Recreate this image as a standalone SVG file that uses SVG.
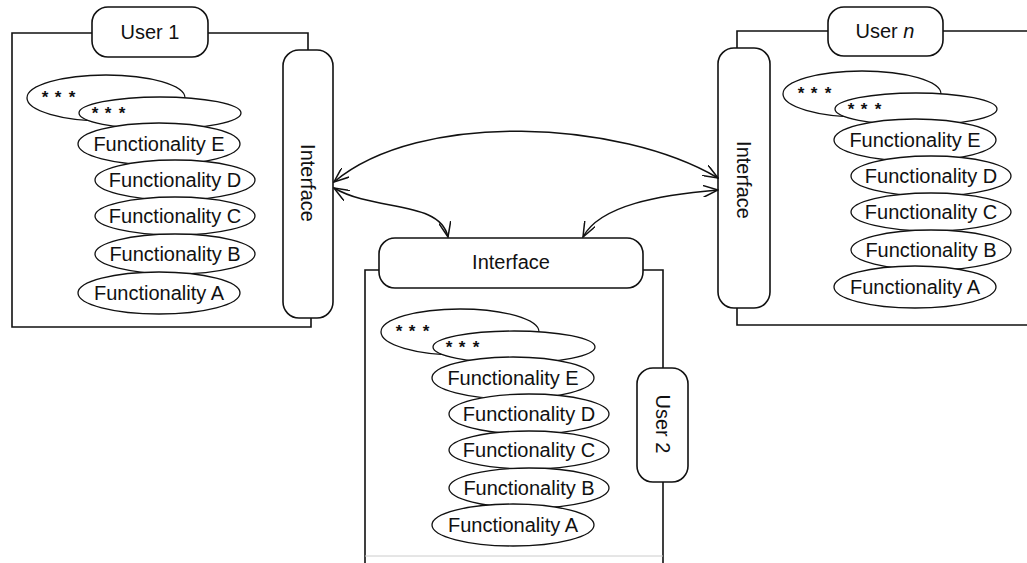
<svg xmlns="http://www.w3.org/2000/svg" width="1027" height="563" viewBox="0 0 1027 563">
  <style>
    .frame { fill: none; stroke: #111; stroke-width: 1.6; }
    .box { fill: #fff; stroke: #111; stroke-width: 1.6; }
    .fn { fill: #fff; stroke: #111; stroke-width: 1.3; }
    .lbl { font-family: "Liberation Sans", Arial, sans-serif; font-size: 20px; fill: #111; }
    .mid { text-anchor: middle; }
    .star { font-family: "Liberation Sans", Arial, sans-serif; font-size: 17px; font-weight: bold; fill: #111; text-anchor: middle; }
    .link { fill: none; stroke: #111; stroke-width: 1.5; marker-start: url(#arr); marker-end: url(#arr); }
  </style>
  <defs>
    <marker id="arr" viewBox="0 0 16 12" refX="15" refY="6" markerWidth="16" markerHeight="12" markerUnits="userSpaceOnUse" orient="auto-start-reverse">
      <path d="M0,0 L15,6 L0,12" fill="none" stroke="#111" stroke-width="1.5"/>
    </marker>
  </defs>

  <rect width="1027" height="563" fill="#fff"/>

  <!-- User 1 -->
  <g id="user1">
    <path class="frame" d="M92,33 H12 V327 H311 V318 M208,33 H308 V50"/>
    <g id="user1-label">
      <rect class="box" x="92" y="7" width="116" height="50" rx="16"/>
      <text class="lbl mid" x="150" y="39">User 1</text>
    </g>
    <g id="user1-interface">
      <rect class="box" x="283" y="50" width="50" height="268" rx="16"/>
      <text class="lbl mid" transform="translate(301,183) rotate(90)">Interface</text>
    </g>
    <g id="user1-functions">
      <g id="u1-more1"><ellipse class="fn" cx="106" cy="98" rx="79" ry="23"/><text class="star" x="45 58 72" y="103">***</text></g>
      <g id="u1-more2"><ellipse class="fn" cx="160" cy="113" rx="81" ry="16"/><text class="star" x="95 108 122" y="119">***</text></g>
      <g id="u1-funcE"><ellipse class="fn" cx="159" cy="144" rx="81" ry="21"/><text class="lbl mid" x="159" y="151">Functionality E</text></g>
      <g id="u1-funcD"><ellipse class="fn" cx="175" cy="180" rx="80" ry="20"/><text class="lbl mid" x="175" y="187">Functionality D</text></g>
      <g id="u1-funcC"><ellipse class="fn" cx="175" cy="216" rx="80" ry="19"/><text class="lbl mid" x="175" y="223">Functionality C</text></g>
      <g id="u1-funcB"><ellipse class="fn" cx="175" cy="254" rx="80" ry="20"/><text class="lbl mid" x="175" y="261">Functionality B</text></g>
      <g id="u1-funcA"><ellipse class="fn" cx="159" cy="293" rx="81" ry="21"/><text class="lbl mid" x="159" y="300">Functionality A</text></g>
    </g>
  </g>

  <!-- User n -->
  <g id="usern">
    <path class="frame" d="M828,31 H737 V48 M943,31 H1027 M737,308 V325 H1027"/>
    <g id="usern-label">
      <rect class="box" x="828" y="7" width="115" height="49" rx="16"/>
      <text class="lbl mid" x="885" y="38">User <tspan font-style="italic">n</tspan></text>
    </g>
    <g id="usern-interface">
      <rect class="box" x="718" y="48" width="52" height="260" rx="16"/>
      <text class="lbl mid" transform="translate(737,180) rotate(90)">Interface</text>
    </g>
    <g id="usern-functions" transform="translate(756,-4)">
      <g id="un-more1"><ellipse class="fn" cx="106" cy="98" rx="79" ry="23"/><text class="star" x="45 58 72" y="103">***</text></g>
      <g id="un-more2"><ellipse class="fn" cx="160" cy="113" rx="81" ry="16"/><text class="star" x="95 108 122" y="119">***</text></g>
      <g id="un-funcE"><ellipse class="fn" cx="159" cy="144" rx="81" ry="21"/><text class="lbl mid" x="159" y="151">Functionality E</text></g>
      <g id="un-funcD"><ellipse class="fn" cx="175" cy="180" rx="80" ry="20"/><text class="lbl mid" x="175" y="187">Functionality D</text></g>
      <g id="un-funcC"><ellipse class="fn" cx="175" cy="216" rx="80" ry="19"/><text class="lbl mid" x="175" y="223">Functionality C</text></g>
      <g id="un-funcB"><ellipse class="fn" cx="175" cy="254" rx="80" ry="20"/><text class="lbl mid" x="175" y="261">Functionality B</text></g>
      <g id="un-funcA"><ellipse class="fn" cx="159" cy="291" rx="81" ry="21"/><text class="lbl mid" x="159" y="298">Functionality A</text></g>
    </g>
  </g>

  <!-- User 2 -->
  <g id="user2">
    <path class="frame" d="M379,270 H365 V563 M643,270 H663 V368 M663,482 V563"/>
    <path d="M365,556 H663" fill="none" stroke="#ccc" stroke-width="1"/>
    <g id="user2-interface">
      <rect class="box" x="379" y="238" width="264" height="50" rx="16"/>
      <text class="lbl mid" x="511" y="269">Interface</text>
    </g>
    <g id="user2-label">
      <rect class="box" x="637" y="368" width="51" height="114" rx="16"/>
      <text class="lbl mid" transform="translate(656,424) rotate(90)">User 2</text>
    </g>
    <g id="user2-functions" transform="translate(354,234)">
      <g id="u2-more1"><ellipse class="fn" cx="106" cy="98" rx="79" ry="23"/><text class="star" x="45 58 72" y="103">***</text></g>
      <g id="u2-more2"><ellipse class="fn" cx="160" cy="113" rx="81" ry="16"/><text class="star" x="95 108 122" y="119">***</text></g>
      <g id="u2-funcE"><ellipse class="fn" cx="159" cy="144" rx="81" ry="21"/><text class="lbl mid" x="159" y="151">Functionality E</text></g>
      <g id="u2-funcD"><ellipse class="fn" cx="175" cy="180" rx="80" ry="20"/><text class="lbl mid" x="175" y="187">Functionality D</text></g>
      <g id="u2-funcC"><ellipse class="fn" cx="175" cy="216" rx="80" ry="19"/><text class="lbl mid" x="175" y="223">Functionality C</text></g>
      <g id="u2-funcB"><ellipse class="fn" cx="175" cy="254" rx="80" ry="20"/><text class="lbl mid" x="175" y="261">Functionality B</text></g>
      <g id="u2-funcA"><ellipse class="fn" cx="159" cy="291" rx="81" ry="21"/><text class="lbl mid" x="159" y="298">Functionality A</text></g>
    </g>
  </g>

  <!-- links between the interfaces -->
  <g id="connectors">
    <path class="link" d="M334,182 C420,110 620,120 718,178"/>
    <path class="link" d="M334,188 C375,212 440,200 448,237"/>
    <path class="link" d="M718,190 C660,195 600,205 583,237"/>
  </g>
</svg>
